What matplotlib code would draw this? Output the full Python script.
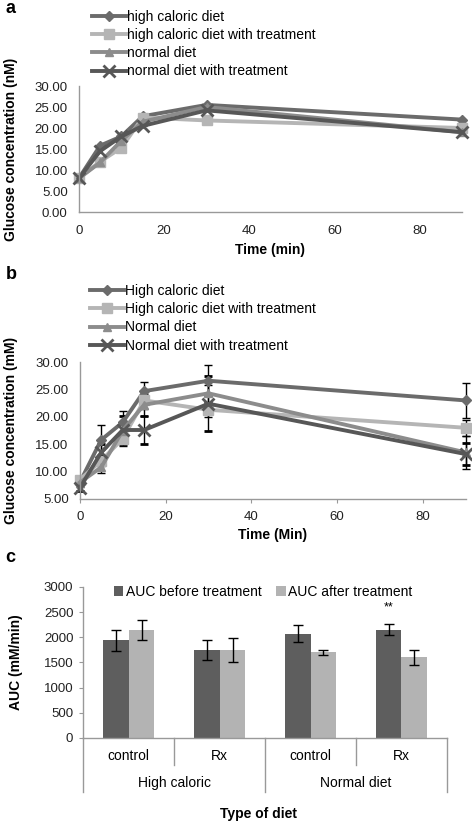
import matplotlib
matplotlib.use("Agg")
import matplotlib.pyplot as plt
from matplotlib.lines import Line2D
import numpy as np

plt.rcParams['font.family'] = ['Liberation Sans', 'DejaVu Sans']

# time points (min)
time = [0, 5, 10, 15, 30, 90]

# panel a
a_names = ['high caloric diet', 'high caloric diet with treatment',
           'normal diet', 'normal diet with treatment']
a_hc = [8.0, 15.8, 18.0, 22.8, 25.5, 22.0]
a_hct = [8.0, 12.0, 15.3, 22.5, 21.8, 20.0]
a_nd = [8.0, 11.8, 17.0, 21.5, 25.0, 19.0]
a_ndt = [8.0, 14.5, 18.0, 20.5, 24.2, 19.0]

# panel b
b_names = ['High caloric diet', 'High caloric diet with treatment',
           'Normal diet', 'Normal diet with treatment']
b_hc = [8.0, 15.8, 19.0, 24.7, 26.6, 23.0]
b_hc_err = [0.8, 2.8, 2.0, 1.7, 2.8, 3.2]
b_hct = [8.5, 12.0, 16.0, 23.0, 21.3, 18.0]
b_hct_err = [0.5, 1.0, 1.3, 1.5, 1.3, 1.5]
b_nd = [8.0, 10.8, 17.5, 22.2, 24.3, 13.5]
b_nd_err = [0.5, 1.0, 1.5, 2.0, 1.5, 3.0]
b_ndt = [7.0, 13.5, 17.6, 17.6, 22.4, 13.2]
b_ndt_err = [0.5, 1.5, 2.5, 2.6, 5.0, 2.0]

# panel c
c_sub = ['control', 'Rx', 'control', 'Rx']
c_groups = ['High caloric', 'Normal diet']
auc_before = [1940, 1740, 2070, 2150]
auc_before_err = [210, 200, 170, 110]
auc_after = [2140, 1740, 1700, 1600]
auc_after_err = [200, 240, 50, 150]

colors = ['#6b6b6b', '#b5b5b5', '#8c8c8c', '#575757']
markers = ['D', 's', '^', 'x']
msizes = [5, 7, 6, 8]

fig = plt.figure(figsize=(4.72, 8.23), dpi=100)

FS = 10


def style(ax):
    for s in ['top', 'right']:
        ax.spines[s].set_visible(False)
    for s in ['left', 'bottom']:
        ax.spines[s].set_color('#999999')
        ax.spines[s].set_linewidth(1.0)
    ax.tick_params(axis='both', labelsize=9.5, colors='#999999', labelcolor='#222222',
                   length=3, width=0.8)
    ax.tick_params(axis='y', length=0, pad=8)
    ax.tick_params(axis='x', pad=6)


def mew(m):
    return 2 if m == 'x' else 1


# ---- a
ax1 = fig.add_axes([0.167, 0.7424, 0.812, 0.1531])
for ys, c, m, ms, n in zip([a_hc, a_hct, a_nd, a_ndt], colors, markers, msizes, a_names):
    ax1.plot(time, ys, color=c, marker=m, ms=ms, lw=2.8, mew=mew(m),
             label=n, clip_on=False)
ax1.set_xlim(0, 90)
ax1.set_ylim(0, 30)
ax1.set_yticks(np.arange(0, 31, 5))
ax1.set_yticklabels(['%.2f' % v for v in np.arange(0, 31, 5)])
ax1.set_xticks([0, 20, 40, 60, 80])
style(ax1)
ax1.tick_params(axis='x', length=0, pad=9)
ax1.set_xlabel('Time (min)', fontsize=FS, fontweight='bold', labelpad=5)
ax1.set_ylabel('Glucose concentration (nM)', fontsize=FS, fontweight='bold')
ax1.yaxis.set_label_coords(-0.158, 0.5)
ax1.legend(loc='lower left', bbox_to_anchor=(0.034, 1.06), frameon=False, fontsize=FS,
           handlelength=2.45, handletextpad=0.1, labelspacing=0.3, borderaxespad=0,
           borderpad=0)
fig.text(0.012, 0.990, 'a', fontsize=13, fontweight='bold', va='center')

# ---- b
ax2 = fig.add_axes([0.169, 0.3937, 0.818, 0.1663])
for ys, es, c, m, ms, n in zip([b_hc, b_hct, b_nd, b_ndt],
                               [b_hc_err, b_hct_err, b_nd_err, b_ndt_err],
                               colors, markers, msizes, b_names):
    ax2.errorbar(time, ys, yerr=es, color=c, marker=m, ms=ms, lw=2.8,
                 mew=mew(m), ecolor='black', elinewidth=1.0,
                 capsize=3, capthick=1.0, label=n, clip_on=False)
ax2.set_xlim(0, 90)
ax2.set_ylim(5, 30)
ax2.set_yticks(np.arange(5, 31, 5))
ax2.set_yticklabels(['%.2f' % v for v in np.arange(5, 31, 5)])
ax2.set_xticks([0, 20, 40, 60, 80])
style(ax2)
ax2.set_xlabel('Time (Min)', fontsize=FS, fontweight='bold', labelpad=3)
ax2.set_ylabel('Glucose concentration (mM)', fontsize=FS, fontweight='bold')
ax2.yaxis.set_label_coords(-0.16, 0.5)
handles = [Line2D([], [], color=c, marker=m, ms=ms, lw=2.8, mew=mew(m))
           for c, m, ms in zip(colors, markers, msizes)]
ax2.legend(handles, b_names, loc='lower left', bbox_to_anchor=(0.026, 1.07), frameon=False,
           fontsize=FS, handlelength=2.45, handletextpad=0.1, labelspacing=0.3,
           borderaxespad=0, borderpad=0)
fig.text(0.012, 0.666, 'b', fontsize=13, fontweight='bold', va='center')

# ---- c
ax3 = fig.add_axes([0.176, 0.1033, 0.771, 0.1835])
x = np.arange(len(c_sub))
w = 0.285
ekw = dict(ecolor='black', elinewidth=1.0, capsize=3.5, capthick=1.0)
ax3.bar(x - w / 2, auc_before, w, color='#5e5e5e', yerr=auc_before_err,
        error_kw=ekw, label='AUC before treatment')
ax3.bar(x + w / 2, auc_after, w, color='#b3b3b3', yerr=auc_after_err,
        error_kw=ekw, label='AUC after treatment')
ax3.text(x[3] - w / 2, 2600, '**', ha='center', va='center', fontsize=9)
ax3.set_xlim(-0.5, 3.5)
ax3.set_ylim(0, 3000)
ax3.set_yticks(np.arange(0, 3001, 500))
style(ax3)
ax3.tick_params(axis='y', length=3, pad=4)
ax3.set_xticks([])
ax3.set_ylabel('AUC (mM/min)', fontsize=FS, fontweight='bold')
ax3.yaxis.set_label_coords(-0.165, 0.5)
ax3.legend(loc='center', bbox_to_anchor=(0.495, 0.967), ncol=2, frameon=False,
           fontsize=FS, handlelength=0.7, handleheight=0.7, handletextpad=0.2,
           columnspacing=1.0, borderaxespad=0, borderpad=0)

# multi-level category axis
trans = ax3.get_xaxis_transform()
for i, lab in enumerate(c_sub):
    ax3.text(i, -0.12, lab, transform=trans, ha='center', va='center', fontsize=FS)
for j, lab in enumerate(c_groups):
    ax3.text(2 * j + 0.5, -0.30, lab, transform=trans, ha='center', va='center', fontsize=FS)
for xs in [0.5, 2.5]:
    ax3.plot([xs, xs], [0, -0.18], transform=trans, color='#999999', lw=1.0, clip_on=False)
for xs in [-0.5, 1.5, 3.5]:
    ax3.plot([xs, xs], [0, -0.36], transform=trans, color='#999999', lw=1.0, clip_on=False)
fig.text(0.547, 0.011, 'Type of diet', fontsize=FS, fontweight='bold', ha='center', va='center')
fig.text(0.012, 0.323, 'c', fontsize=13, fontweight='bold', va='center')

fig.savefig('out.png', dpi=100)
